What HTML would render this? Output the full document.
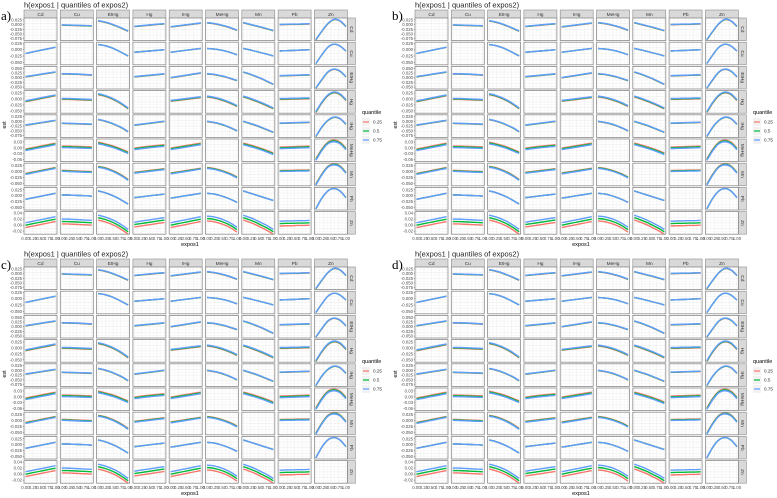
<!DOCTYPE html>
<html><head><meta charset="utf-8"><style>
html,body{margin:0;padding:0;background:#fff;}
svg{display:block;font-family:"Liberation Sans",sans-serif;}
</style></head><body>
<svg id="fig" width="777" height="498" viewBox="0 0 777 498" xmlns="http://www.w3.org/2000/svg"></svg>
<script>
const vars = ["Cd","Cu","EtHg","Hg","IHg","MeHg","Mn","Pb","Zn"];
const quantiles = ["0.25","0.5","0.75"];
const xPoints = [0,0.2,0.4,0.6,0.8,1];
const xTickLabels = ["0.00","0.25","0.50","0.75","1.00"];
const xTickValues = [0,0.25,0.5,0.75,1];
const panelLetters = ["a)","b)","c)","d)"];
const rowYMin = [-0.085,-0.06,-0.06,-0.06,-0.085,-0.07,-0.06,-0.06,-0.03];
const rowYMax = [0.035,0.03,0.06,0.035,0.035,0.045,0.035,0.035,0.045];
const rowTicks = [
 [0.025,0,-0.025,-0.05,-0.075],[0.025,0,-0.025,-0.05],[0.05,0.025,0,-0.025,-0.05],
 [0.025,0,-0.025,-0.05],[0.025,0,-0.025,-0.05,-0.075],[0.03,0,-0.03,-0.06],
 [0.025,0,-0.025,-0.05],[0.025,0,-0.025,-0.05],[0.04,0.02,0,-0.02]];
const rowTickLabels = [
 ["0.025","0.000","-0.025","-0.050","-0.075"],["0.025","0.000","-0.025","-0.050"],["0.050","0.025","0.000","-0.025","-0.050"],
 ["0.025","0.000","-0.025","-0.050"],["0.025","0.000","-0.025","-0.050","-0.075"],["0.03","0.00","-0.03","-0.06"],
 ["0.025","0.000","-0.025","-0.050"],["0.025","0.000","-0.025","-0.050"],["0.04","0.02","0.00","-0.02"]];
const rowSpread = [0.001,0,0.001,0.002,0.001,-0.004,-0.002,0,0.008];
const estCd = [null,[-0.002,-0.003,-0.004,-0.005,-0.006,-0.007],[0.02,0.014,0.005,-0.007,-0.02,-0.035],[-0.01,-0.007,-0.004,-0.001,0.002,0.004],[-0.012,-0.008,-0.004,0,0.004,0.008],[0.01,0.006,0.0,-0.008,-0.018,-0.03],[0.01,0.002,-0.006,-0.014,-0.023,-0.032],[0,0.001,0.002,0.002,0.003,0.004],[-0.08,-0.035,0.005,0.027,0.02,-0.01]];
const estCu = [[-0.015,-0.01,-0.005,0,0.005,0.01],null,[0.02,0.017,0.01,0,-0.012,-0.025],[-0.01,-0.008,-0.006,-0.004,-0.002,0],[-0.01,-0.007,-0.004,-0.001,0.002,0.005],[0.005,0.003,0,-0.005,-0.012,-0.02],[0.005,0,-0.006,-0.012,-0.018,-0.025],[-0.005,-0.004,-0.003,-0.002,-0.001,0],[-0.055,-0.02,0.01,0.022,0.015,-0.005]];
const estEtHg = [[0.005,0.01,0.015,0.02,0.025,0.03],[0.02,0.02,0.019,0.018,0.016,0.014],null,[0.005,0.008,0.011,0.014,0.017,0.02],[0,0.005,0.01,0.015,0.02,0.025],[0.02,0.018,0.012,0.005,-0.005,-0.015],[0.03,0.02,0.008,-0.005,-0.02,-0.035],[0.01,0.011,0.012,0.013,0.014,0.015],[-0.055,-0.01,0.03,0.045,0.035,0.005]];
const estHg = [[-0.01,-0.005,0,0.005,0.01,0.015],[0,0,-0.001,-0.002,-0.003,-0.004],[0.02,0.014,0.005,-0.007,-0.022,-0.04],null,[-0.008,-0.005,-0.002,0.001,0.004,0.007],[0.01,0.006,0,-0.008,-0.018,-0.03],[0.01,0.002,-0.007,-0.017,-0.028,-0.04],[0,0,0.001,0.001,0.002,0.002],[-0.055,-0.015,0.015,0.027,0.02,-0.005]];
const estIHg = [[-0.02,-0.015,-0.01,-0.005,0,0.005],[-0.01,-0.011,-0.012,-0.013,-0.014,-0.015],[0.01,0.003,-0.007,-0.02,-0.035,-0.055],[-0.02,-0.016,-0.012,-0.008,-0.004,0],null,[0,-0.005,-0.012,-0.022,-0.035,-0.05],[0,-0.01,-0.02,-0.032,-0.045,-0.058],[-0.01,-0.009,-0.008,-0.007,-0.006,-0.005],[-0.08,-0.03,0.005,0.022,0.015,-0.015]];
const estMeHg = [[-0.01,-0.004,0.002,0.008,0.014,0.02],[0.005,0.005,0.004,0.003,0.002,0.001],[0.025,0.018,0.01,0,-0.012,-0.025],[-0.005,-0.001,0.003,0.006,0.009,0.012],[-0.005,0,0.005,0.01,0.015,0.02],null,[0.02,0.012,0.003,-0.007,-0.018,-0.03],[0,0.001,0.002,0.003,0.004,0.005],[-0.06,-0.01,0.025,0.035,0.025,-0.005]];
const estMn = [[-0.01,-0.005,0,0.005,0.01,0.015],[0.003,0.002,0.001,0,-0.001,-0.002],[0.02,0.015,0.007,-0.004,-0.018,-0.035],[-0.005,-0.002,0.001,0.004,0.007,0.01],[-0.008,-0.004,0,0.004,0.008,0.012],[0.015,0.012,0.006,-0.002,-0.012,-0.025],null,[0.002,0.003,0.003,0.004,0.004,0.005],[-0.055,-0.012,0.02,0.03,0.022,-0.005]];
const estPb = [[-0.015,-0.01,-0.005,0,0.005,0.01],[0.003,0.003,0.002,0.001,0,-0.002],[0.02,0.014,0.005,-0.006,-0.02,-0.035],[-0.008,-0.005,-0.002,0.001,0.004,0.007],[-0.01,-0.006,-0.002,0.002,0.006,0.01],[0.01,0.008,0.002,-0.006,-0.016,-0.028],[0.02,0.012,0.004,-0.004,-0.012,-0.02],null,[-0.055,-0.01,0.02,0.03,0.02,-0.008]];
const estZn = [[0,0.004,0.008,0.012,0.016,0.02],[0.012,0.012,0.011,0.01,0.009,0.008],[0.025,0.02,0.013,0.004,-0.008,-0.022],[0.002,0.005,0.008,0.011,0.014,0.017],[0,0.004,0.008,0.012,0.016,0.02],[0.022,0.02,0.015,0.008,-0.002,-0.015],[0.025,0.018,0.01,0,-0.01,-0.022],[0.005,0.006,0.006,0.007,0.007,0.008],null];
const estRows = [estCd,estCu,estEtHg,estHg,estIHg,estMeHg,estMn,estPb,estZn];

const NS="http://www.w3.org/2000/svg";
const svg=document.getElementById("fig");
function mk(tag,attrs,parent,text){const e=document.createElementNS(NS,tag);for(const k in attrs)e.setAttribute(k,attrs[k]);if(text!==undefined)e.textContent=text;(parent||svg).appendChild(e);return e;}
const colors=["#F8766D","#00BA38","#619CFF"];
const offsets=[[0,0],[391,0],[0,249],[391,249]];
const X0=24,PITCH_X=36.3,PW=33,Y0=18,PITCH_Y=24.2,PH=22.6;

function pathFrom(pts){let d="M"+pts[0][0].toFixed(2)+","+pts[0][1].toFixed(2);
 for(let i=0;i<pts.length-1;i++){const p0=pts[Math.max(0,i-1)],p1=pts[i],p2=pts[i+1],p3=pts[Math.min(pts.length-1,i+2)];
  const c1=[p1[0]+(p2[0]-p0[0])/6,p1[1]+(p2[1]-p0[1])/6],c2=[p2[0]-(p3[0]-p1[0])/6,p2[1]-(p3[1]-p1[1])/6];
  d+="C"+c1[0].toFixed(2)+","+c1[1].toFixed(2)+" "+c2[0].toFixed(2)+","+c2[1].toFixed(2)+" "+p2[0].toFixed(2)+","+p2[1].toFixed(2);}
 return d;}

offsets.forEach((off,pi)=>{
 const ox=off[0],oy=off[1];
 const g=mk("g",{});
 
 
 const lbl=mk("text",{x:ox+1,y:oy+20,"font-size":"13","font-family":"Liberation Serif, serif",fill:"#000"},g,panelLetters[pi]);
 
 
 const tt=mk("text",{x:ox+24,y:oy+7.5,"font-size":"7.5",fill:"#222"},g,"h(expos1 | quantiles of expos2)");
 
 
 vars.forEach((v,c)=>{
  const x=ox+X0+PITCH_X*c;
  const s=mk("rect",{x:x,y:oy+10,width:PW,height:8,fill:"#d9d9d9",stroke:"#8c8c8c","stroke-width":"0.6"},g);
  
  
  const t=mk("text",{x:x+PW/2,y:oy+16.2,"font-size":"4.8","text-anchor":"middle",fill:"#333"},g,v);
  
  
 });
 vars.forEach((rv,r)=>{
  const py=oy+Y0+PITCH_Y*r;
  const ymin=rowYMin[r],ymax=rowYMax[r];
  const sy=v=>py+PH-(v-ymin)/(ymax-ymin)*PH;
  const rs=mk("rect",{x:ox+X0+PITCH_X*8+PW,y:py,width:8,height:PH,fill:"#d9d9d9",stroke:"#8c8c8c","stroke-width":"0.6"},g);
  
  
  const rx=ox+X0+PITCH_X*8+PW+4,ry=py+PH/2;
  const rt=mk("text",{x:rx,y:ry+1.6,"font-size":"4.8","text-anchor":"middle",fill:"#333",transform:"rotate(90 "+rx+" "+ry+")"},g,rv);
  
  
  rowTicks[r].forEach((tv,ti)=>{
   const yy=sy(tv);
   const tl=mk("text",{x:ox+X0-2,y:yy+1.5,"font-size":"4.3","text-anchor":"end",fill:"#4d4d4d"},g,rowTickLabels[r][ti]);
   
   
   mk("line",{x1:ox+X0-1.2,x2:ox+X0,y1:yy,y2:yy,stroke:"#333","stroke-width":"0.4"},g);
  });
  vars.forEach((cv,c)=>{
   const px=ox+X0+PITCH_X*c;
   const sx=v=>px+PW*0.045+v*PW*0.91;
   const cell=mk("g",{},g);
   
   
   mk("rect",{x:px,y:py,width:PW,height:PH,fill:"#fff"},cell);
   for(let k=0;k<=8;k++){const gx=px+PW*0.045+k*PW*0.91/8;mk("line",{x1:gx,x2:gx,y1:py,y2:py+PH,stroke:k%2?"#f3f3f3":"#e6e6e6","stroke-width":"0.4"},cell);}
   for(let k=0;k<=8;k++){const gy=py+k*PH/8;mk("line",{x1:px,x2:px+PW,y1:gy,y2:gy,stroke:k%2?"#f3f3f3":"#e6e6e6","stroke-width":"0.4"},cell);}
   const vals=estRows[r][c];
   if(vals){
    const sp=rowSpread[r];
    [-1,0,1].forEach((m,qi)=>{
     const pts=xPoints.map((xv,i)=>[sx(xv),sy(vals[i]+m*sp)]);
     const ln=mk("path",{d:pathFrom(pts),fill:"none",stroke:colors[qi],"stroke-width":"1.4"},cell);
     
     
    });
   }
   mk("rect",{x:px,y:py,width:PW,height:PH,fill:"none",stroke:"#8c8c8c","stroke-width":"0.8"},cell);
   if(r===8){
    xTickValues.forEach((xv,i)=>{
     const xt=mk("text",{x:sx(xv),y:py+PH+6,"font-size":"4.3","text-anchor":"middle",fill:"#4d4d4d"},g,xTickLabels[i]);
     
     
    });
   }
  });
 });
 const xa=mk("text",{x:ox+190,y:oy+246,"font-size":"5.5","text-anchor":"middle",fill:"#000"},g,"expos1");
 
 
 const ex=ox+6,ey=oy+125;
 const ya=mk("text",{x:ex,y:ey,"font-size":"5.5","text-anchor":"middle",fill:"#000",transform:"rotate(-90 "+ex+" "+ey+")"},g,"est");
 
 
 const lg=mk("g",{},g);
 
 
 mk("text",{x:ox+362,y:oy+114,"font-size":"5.5",fill:"#000"},lg,"quantile");
 quantiles.forEach((q,qi)=>{
  const yy=oy+118+qi*9;
  const e=mk("g",{},lg);
  
  
  mk("rect",{x:ox+362,y:yy,width:8,height:8,fill:"#f2f2f2"},e);
  mk("line",{x1:ox+363,x2:ox+369,y1:yy+4,y2:yy+4,stroke:colors[qi],"stroke-width":"1.2"},e);
  mk("text",{x:ox+373,y:yy+5.6,"font-size":"4.6",fill:"#333"},e,q);
 });
});
</script>
</body></html>
